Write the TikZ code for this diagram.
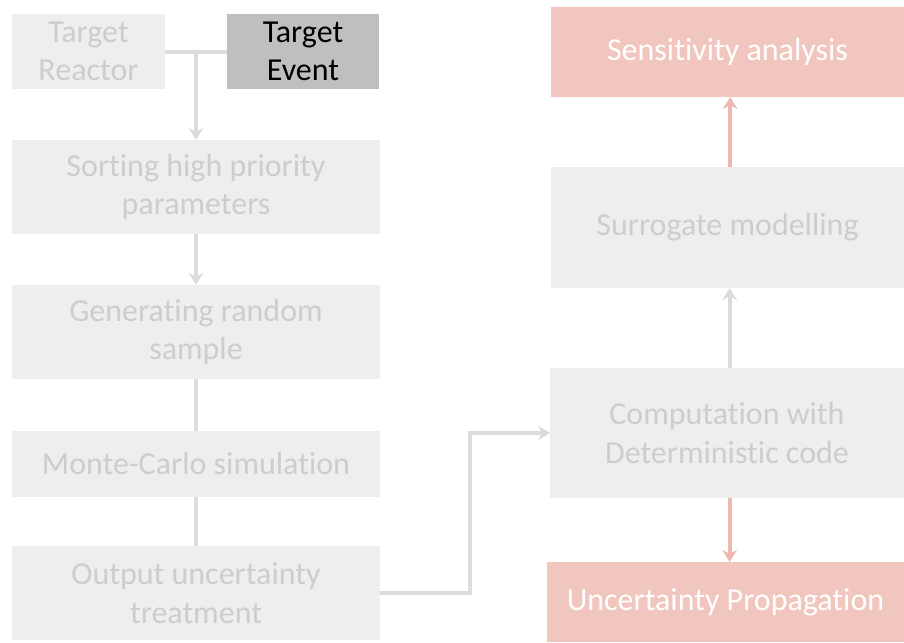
\documentclass[tikz,border=0pt]{standalone}
\usepackage{fontspec}
\setmainfont{Carlito}[Ligatures=NoCommon]
\usetikzlibrary{arrows.meta}
\definecolor{boxgrey}{HTML}{EEEEEE}
\definecolor{boxtext}{HTML}{CDCDCD}
\definecolor{boxred}{HTML}{F1C6BF}
\definecolor{linegrey}{HTML}{DCDCDC}
\definecolor{linered}{HTML}{EDB8B0}
\definecolor{eventgrey}{HTML}{BFBFBF}
\tikzset{
  stepbox/.style={rectangle, inner sep=0pt, outer sep=0pt, anchor=center,
    align=center, font=\fontsize{24pt}{29pt}\selectfont},
  greybox/.style={stepbox, fill=boxgrey, text=boxtext},
  redbox/.style={stepbox, fill=boxred, text=white},
  eventbox/.style={stepbox, fill=eventgrey, text=black},
  link/.style={draw=linegrey, line width=3pt},
  flow/.style={link, -{Stealth[length=9pt,width=11pt]}},
  redflow/.style={flow, draw=linered},
}
\begin{document}
\begin{tikzpicture}[x=0.75pt, y=-0.75pt]
\useasboundingbox (0,0) rectangle (904,643);

% left column
\node[greybox, minimum width=114.75pt, minimum height=56.25pt] (tr) at (88.5,51.5) {Target\\Reactor};
\node[eventbox, minimum width=114pt, minimum height=56.25pt] (te) at (303,51.5) {Target\\Event};
\node[greybox, minimum width=276pt, minimum height=70.5pt] (sort) at (196,187) {Sorting high priority\\parameters};
\node[greybox, minimum width=276pt, minimum height=70.5pt] (gen) at (196,332) {Generating random\\sample};
\node[greybox, minimum width=276pt, minimum height=49.5pt] (mc) at (196,464) {Monte-Carlo simulation};
\node[greybox, minimum width=276pt, minimum height=70.5pt] (out) at (196,593) {Output uncertainty\\treatment};

% right column
\node[redbox, minimum width=264.75pt, minimum height=67.5pt] (sens) at (727.5,52) {Sensitivity analysis};
\node[greybox, minimum width=264.75pt, minimum height=90.75pt] (sur) at (727.5,227.5) {Surrogate modelling};
\node[greybox, minimum width=265.5pt, minimum height=97.5pt] (comp) at (727,433) {Computation with\\Deterministic code};
\node[redbox, minimum width=267.75pt, minimum height=60pt] (unc) at (725.5,602) {Uncertainty Propagation};

% connectors
\coordinate (j) at (196,51.5);
\coordinate (c) at ([xshift=2pt]comp.south);
\coordinate (cn) at ([xshift=2pt]comp.north);
\coordinate (s) at ([xshift=2pt]sur.north);
\draw[link] (tr.east) -- (te.west);
\draw[flow] (j) -- (sort.north);
\draw[flow] (sort.south) -- (gen.north);
\draw[link] (gen.south) -- (mc.north);
\draw[link] (mc.south) -- (out.north);
\draw[flow] (out.east) -- ++(90,0) |- (comp.west);
\draw[flow] (cn) -- (cn |- sur.south);
\draw[redflow] (s) -- (s |- sens.south);
\draw[redflow] (c) -- (c |- unc.north);
\end{tikzpicture}
\end{document}
